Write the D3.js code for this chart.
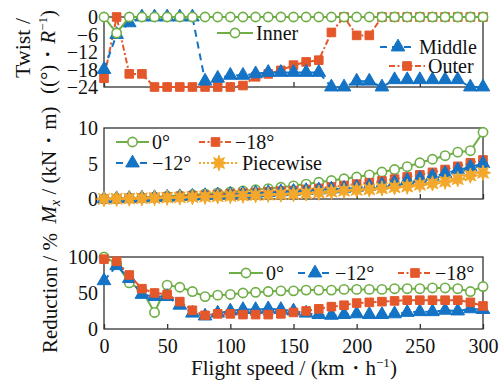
<!DOCTYPE html>
<html><head><meta charset="utf-8">
<script src="https://cdn.jsdelivr.net/npm/d3@7"></script>
<style>body{margin:0;background:#fff;}</style></head>
<body><svg id="c" width="504" height="381"></svg>
<script>
// ---------- data ----------
const speeds = [0,10,20,30,40,50,60,70,80,90,100,110,120,130,140,150,160,170,180,190,200,210,220,230,240,250,260,270,280,290,300];
const xTicks = [0,50,100,150,200,250,300];

const twistInner  = [0,-5.5,0,0,0,0,0,0,0,0,0,0,0,0,0,0,0,0,0,0,0,0,0,0,0,0,0,0,0,0,0];
const twistMiddle = [-18,-6,-2,0,0,0,0,0,-22,-21,-20,-20,-19.5,-19,-19,-19,-19,-19,-24,-24,-22,-22,-24,-21.5,-21.5,-21.5,-21.5,-21.5,-21.5,-24,-24];
const twistOuter  = [-21,0,-19.5,-19.5,-24,-24,-24,-24,-24,-24,-24,-23.5,-20.5,-19.5,-18.3,-16.5,-15.4,-14.8,-5.3,0,-6.3,-6.3,0,0,0,0,0,0,0,0,0];
const twistTicks  = [0,-6,-12,-18,-24];

const mx0   = [0,0.05,0.12,0.2,0.28,0.38,0.48,0.6,0.72,0.85,1.0,1.15,1.3,1.45,1.65,1.85,2.1,2.35,2.6,2.85,3.1,3.4,3.8,4.15,4.55,5.1,5.6,6.1,6.6,6.8,9.4];
const mx12  = [0,0.04,0.08,0.13,0.19,0.25,0.32,0.4,0.48,0.56,0.65,0.73,0.82,0.9,1.0,1.08,1.18,1.28,1.4,1.5,1.65,1.8,2.0,2.3,2.6,2.9,3.2,3.6,4.1,4.5,5.0];
const mx18  = [0,0.04,0.09,0.15,0.21,0.28,0.36,0.44,0.53,0.63,0.73,0.82,0.92,1.02,1.12,1.2,1.35,1.5,1.7,1.9,2.1,2.3,2.55,2.8,3.1,3.4,3.75,4.15,4.6,5.1,5.5];
const mxPw  = [0,0.03,0.06,0.1,0.14,0.18,0.22,0.27,0.32,0.37,0.42,0.48,0.54,0.6,0.65,0.7,0.8,0.9,1.03,1.17,1.27,1.35,1.5,1.65,1.75,2.0,2.2,2.45,2.8,3.3,3.7];
const mxTicks = [0,5,10];

const red0  = [100,91,64,54,23,61,58,52,45,47,48,50,51,52,53,53,54,54,54,55,55,55,55,56,56,56,57,57,56,52,59];
const red12 = [67,88,70,48,45,45,33,22,18,22,25,27,27,28,27,25,22,20,19,20,21,20,20,21,23,24,24,26,25,28,27];
const red18 = [97,94,75,56,50,48,38,26,19,21,21,20,20,20,21,23,25,28,31,33,36,37,38,39,40,40,40,40,40,37,32];
const redTicks = [0,50,100];

// ---------- styles ----------
const C = {green:"#6fae46", blue:"#1473c4", orange:"#e4572a", gold:"#f3a82b"};
const FS = 20, TFS = 21;
const FONT = '"Liberation Serif"';

const svg = d3.select("#c");
const x = d3.scaleLinear().domain([0,300]).range([104,483]);

const star8 = {draw(ctx,size){
  const R = Math.sqrt(size)*0.75, r = R*0.5;
  for(let i=0;i<16;i++){
    const a = Math.PI*i/8 - Math.PI/2, rr = i%2? r: R;
    const px = rr*Math.cos(a), py = rr*Math.sin(a);
    i? ctx.lineTo(px,py): ctx.moveTo(px,py);
  }
  ctx.closePath();
}};

const styles = {
  green:{color:C.green, dash:null, sym:d3.symbolCircle, size:68, fill:"#fff", sw:1.6},
  blue:{color:C.blue, dash:"7,5", sym:d3.symbolTriangle, size:80, fill:C.blue, sw:1},
  orange:{color:C.orange, dash:"6,2.5,2,2.5", sym:d3.symbolSquare, size:74, fill:C.orange, sw:1},
  gold:{color:C.gold, dash:"2,2", sym:star8, size:105, fill:C.gold, sw:1}
};

function ft(sel, fs){ return sel.style("font-family",FONT).attr("font-size",fs||FS).attr("fill","#111"); }

function panel(y, ticks, series, opts){
  const g = svg.append("g");
  const [y0,y1] = [y.range()[0], y.range()[1]];
  g.append("rect").attr("x",x.range()[0]).attr("y",y1).attr("width",x.range()[1]-x.range()[0]).attr("height",y0-y1)
    .attr("fill","none").attr("stroke","#333").attr("stroke-width",1.3);
  const xa = d3.axisBottom(x).tickValues(xTicks).tickSize(-5).tickFormat(opts.xLabels? d3.format("d"): "");
  const gx = g.append("g").attr("transform",`translate(0,${y0})`).call(xa);
  gx.select(".domain").remove();
  gx.selectAll("line").attr("stroke","#333").attr("stroke-width",1.3);
  ft(gx.selectAll("text")).attr("dy","1.1em").attr("y",2);
  const ya = d3.axisLeft(y).tickValues(ticks).tickSize(0).tickPadding(6)
     .tickFormat(d=> d<0? "\u2212"+Math.abs(d): String(d));
  const gy = g.append("g").attr("transform",`translate(${x.range()[0]},0)`).call(ya);
  gy.select(".domain").remove();
  ft(gy.selectAll("text")).attr("dy","0.34em");
  const line = d3.line().x((d,i)=>x(speeds[i])).y(d=>y(d));
  series.forEach(s=>{
    const st = styles[s.style];
    g.append("path").datum(s.values).attr("d",line).attr("fill","none")
      .attr("stroke",st.color).attr("stroke-width",2).attr("stroke-dasharray",st.dash);
    g.selectAll(null).data(s.values).join("path")
      .attr("transform",(d,i)=>`translate(${x(speeds[i])},${y(d)})`)
      .attr("d",d3.symbol().type(st.sym).size(st.size))
      .attr("fill",st.fill).attr("stroke",st.color).attr("stroke-width",st.sw);
  });
  return g;
}

function legendItem(x0, yy, style, label, w){
  const st = styles[style];
  const L = w || 36;
  svg.append("line").attr("x1",x0).attr("x2",x0+L).attr("y1",yy).attr("y2",yy)
    .attr("stroke",st.color).attr("stroke-width",2).attr("stroke-dasharray",st.dash);
  svg.append("path").attr("transform",`translate(${x0+L/2},${yy})`)
    .attr("d",d3.symbol().type(st.sym).size(st.size)).attr("fill",st.fill).attr("stroke",st.color).attr("stroke-width",st.sw);
  ft(svg.append("text")).attr("x",x0+L+3).attr("y",yy).attr("dy","0.35em").text(label);
}

// ---- top panel ----
const yT = d3.scaleLinear().domain([-24,0]).range([87,17]);
panel(yT, twistTicks, [
  {style:"orange", values:twistOuter},
  {style:"blue", values:twistMiddle},
  {style:"green", values:twistInner}
], {xLabels:false});
legendItem(217, 33, "green", "Inner");
legendItem(380, 47, "blue", "Middle");
legendItem(389, 66, "orange", "Outer");

// ---- middle panel ----
const yM = d3.scaleLinear().domain([0,10]).range([199,128]);
panel(yM, mxTicks, [
  {style:"green", values:mx0},
  {style:"orange", values:mx18},
  {style:"blue", values:mx12},
  {style:"gold", values:mxPw}
], {xLabels:false});
legendItem(116, 142, "green", "0\u00b0", 33);
legendItem(199, 142, "orange", "\u221218\u00b0", 33);
legendItem(116, 163, "blue", "\u221212\u00b0", 33);
legendItem(199, 163, "gold", "Piecewise", 40);

// ---- bottom panel ----
const yB = d3.scaleLinear().domain([0,100]).range([329,257]);
panel(yB, redTicks, [
  {style:"green", values:red0},
  {style:"blue", values:red12},
  {style:"orange", values:red18}
], {xLabels:true});
legendItem(229, 273, "green", "0\u00b0", 34);
legendItem(298, 273, "blue", "\u221212\u00b0", 34);
legendItem(398, 273, "orange", "\u221218\u00b0", 34);

// ---- axis titles ----
function vtext(cx, cy, build, fs){
  const t = ft(svg.append("text"), fs||TFS).attr("transform",`translate(${cx},${cy}) rotate(-90)`)
    .attr("text-anchor","middle");
  build(t);
}
vtext(30, 48, t=>t.text("Twist /"), 22);
vtext(55, 52, t=>{
  t.append("tspan").text("((\u00b0)\u30fb");
  t.append("tspan").attr("font-style","italic").text("R");
  t.append("tspan").attr("font-size",13).attr("dy",-8).text("\u22121");
  t.append("tspan").attr("dy",8).text(")");
});
vtext(56, 165, t=>{
  t.append("tspan").attr("font-style","italic").text("M");
  t.append("tspan").attr("font-style","italic").attr("font-size",14).attr("dy",4).text("x");
  t.append("tspan").attr("dy",-4).text(" / (kN\u30fbm)");
});
vtext(57, 293, t=>t.text("Reduction / %"));

const xt = ft(svg.append("text"), TFS).attr("x",294).attr("y",375).attr("text-anchor","middle");
xt.append("tspan").text("Flight speed / (km\u30fbh");
xt.append("tspan").attr("font-size",13).attr("dy",-8).text("\u22121");
xt.append("tspan").attr("dy",8).text(")");
</script></body></html>
